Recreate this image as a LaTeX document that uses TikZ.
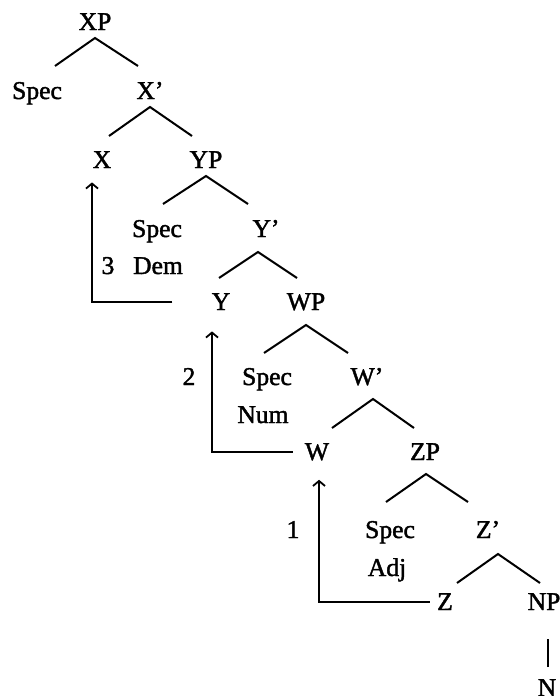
\documentclass[tikz,border=0pt]{standalone}
\usepackage{fontspec}
\setmainfont{Liberation Serif}
\newfontfamily\treefont[Ligatures=TeX, FakeBold=1.6]{Liberation Serif}
\usepackage{tikz}
\usetikzlibrary{arrows.meta}
\tikzstyle{cat} = [inner sep=0pt, anchor=base, font=\treefont\fontsize{12.8}{15}\selectfont]
\tikzstyle{branch} = [line width=1pt]
\tikzstyle{move} = [line width=0.9pt, -{Straight Barb[length=2.5pt,width=6pt]}]

\begin{document}
\begin{tikzpicture}[x=0.5pt, y=-0.5pt]
        \useasboundingbox (0,0) rectangle (560,696);

        % XP
        \node (XP) [cat] at (95,30) {XP};
        \node (specX) [cat] at (37,99) {Spec};
        \node (Xbar) [cat] at (150,99) {X'};
        \node (X) [cat] at (102,168) {X};
        \node (YP) [cat] at (206,168) {YP};

        % YP
        \node (specY) [cat] at (157,237) {Spec};
        \node (dem) [cat] at (158,274) {Dem};
        \node (Ybar) [cat] at (266,237) {Y'};
        \node (Y) [cat] at (221,310) {Y};
        \node (WP) [cat] at (306,310) {WP};

        % WP
        \node (specW) [cat] at (267,385) {Spec};
        \node (num) [cat] at (263,423) {Num};
        \node (Wbar) [cat] at (367,385) {W'};
        \node (W) [cat] at (317,460) {W};
        \node (ZP) [cat] at (425,460) {ZP};

        % ZP
        \node (specZ) [cat] at (390,538) {Spec};
        \node (adj) [cat] at (387,576) {Adj};
        \node (Zbar) [cat] at (488,538) {Z'};
        \node (Z) [cat] at (445,610) {Z};
        \node (NP) [cat] at (544,610) {NP};
        \node (N) [cat] at (547,696) {N};

        % Nummer der Bewegung
        \node (m3) [cat] at (108,274) {3};
        \node (m2) [cat] at (189,385) {2};
        \node (m1) [cat] at (293,538) {1};

        % Aeste
        \draw [branch] ([yshift=-4pt]XP.base) ++(-40,28) -- ++(40,-28) -- ++(43,28);
        \draw [branch] ([yshift=-4pt]Xbar.base) ++(-41,29) -- ++(41,-29) -- ++(42,29);
        \draw [branch] ([yshift=-4pt]YP.base) ++(-43,28) -- ++(43,-28) -- ++(42,28);
        \draw [branch] ([yshift=-7.5pt]Ybar.base) ++(-47,26) -- ++(39,-26) -- ++(39,26);
        \draw [branch] ([yshift=-7.5pt]WP.base) ++(-42,28) -- ++(42,-28) -- ++(42,28);
        \draw [branch] ([yshift=-7pt]Wbar.base) ++(-35,29) -- ++(41,-29) -- ++(41,29);
        \draw [branch] ([yshift=-7pt]ZP.base) ++(-39,28) -- ++(40,-28) -- ++(42,28);
        \draw [branch] ([yshift=-8pt]Zbar.base) ++(-31,29) -- ++(41,-29) -- ++(42,29);
        \draw [branch] (N.base) ++(1,-29) -- ++(0,-28);

        % Kopfbewegung
        \draw [move] ([xshift=-19.5pt]Y.west) -| ([shift={(-10,14)}]X.south);
        \draw [move] ([xshift=-6pt]W.west) -| ([shift={(-9,21)}]Y.south);
        \draw [move] ([xshift=-3.5pt]Z.west) -| ([shift={(2,19)}]W.south);
    \end{tikzpicture}
\end{document}
